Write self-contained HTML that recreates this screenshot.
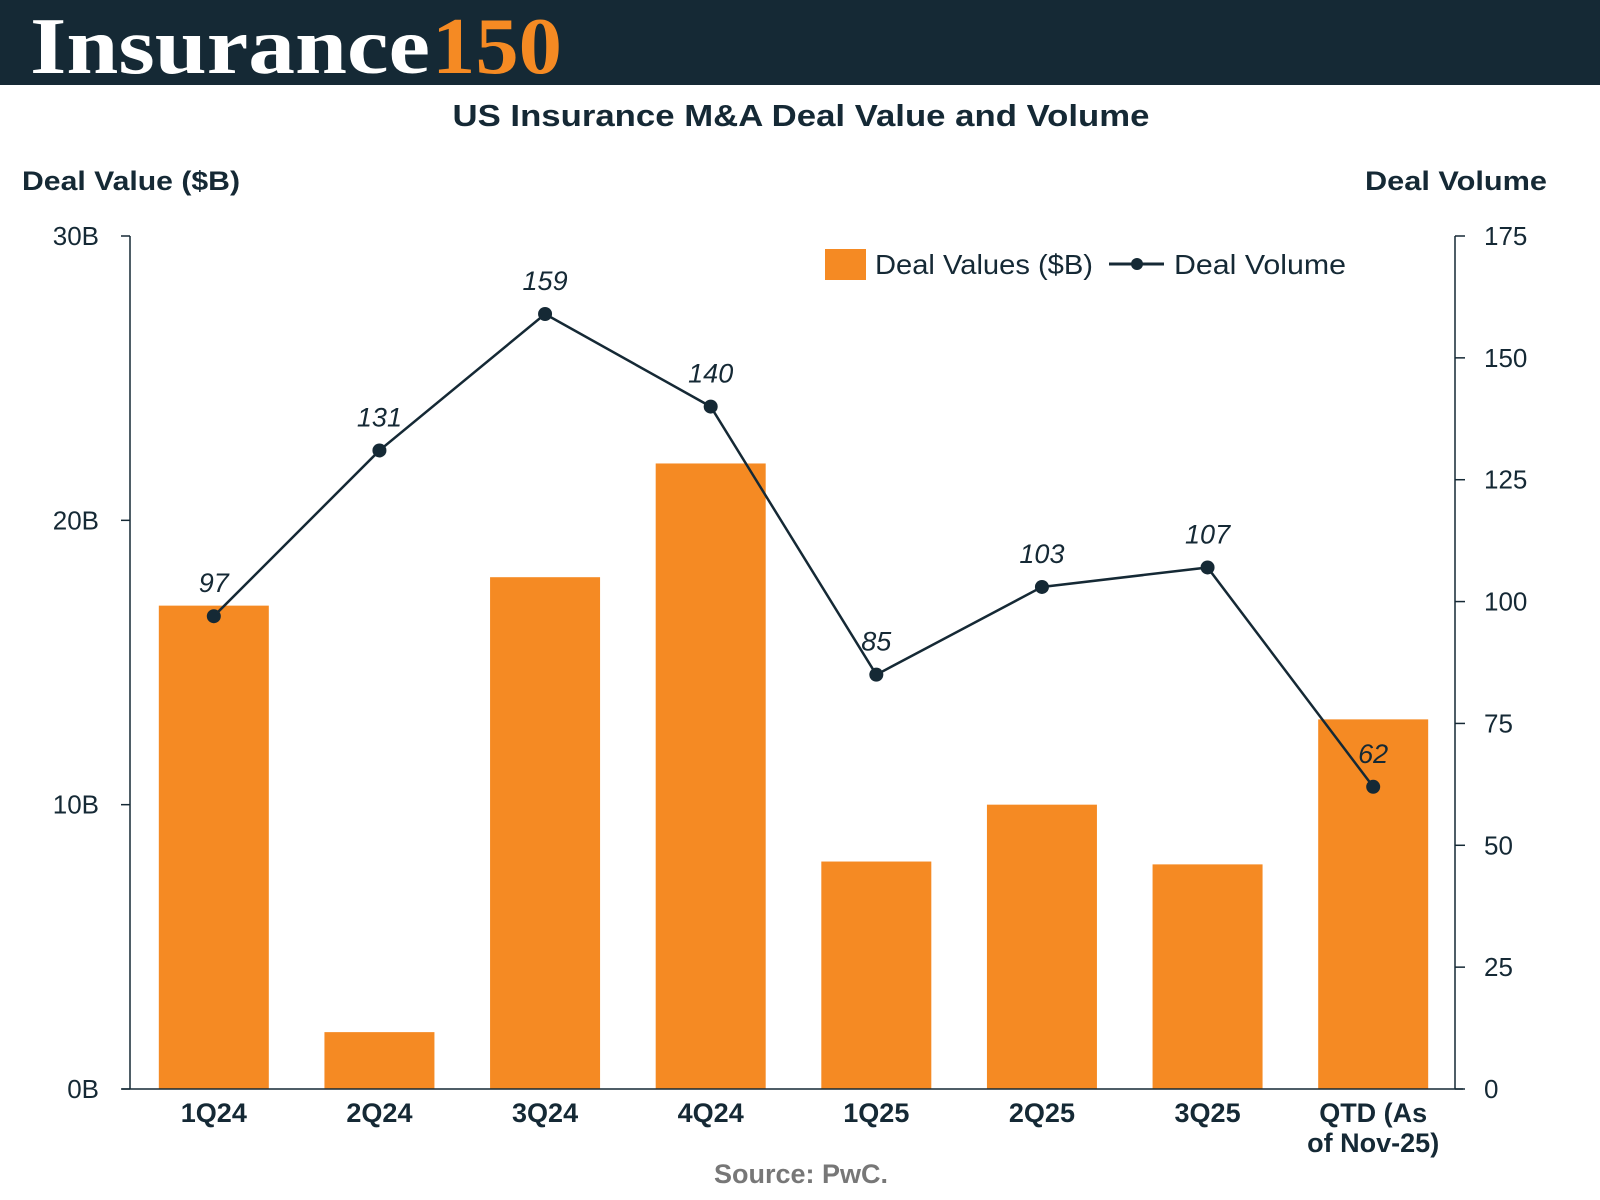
<!DOCTYPE html>
<html><head><meta charset="utf-8"><style>
html,body{margin:0;padding:0;background:#fff;width:1600px;height:1200px;overflow:hidden}
svg{display:block;font-family:"Liberation Sans","DejaVu Sans",sans-serif}
</style></head><body>
<svg id="chart" width="1600" height="1200" viewBox="0 0 1600 1200">
<rect x="0" y="0" width="1600" height="85" fill="#152935"/>
<text x="30" y="73" font-family="Liberation Serif,serif" font-weight="bold" font-size="80" fill="#fff" textLength="400" lengthAdjust="spacingAndGlyphs">Insurance</text>
<text x="432" y="73" font-family="Liberation Serif,serif" font-weight="bold" font-size="80" fill="#f58a23" textLength="130" lengthAdjust="spacingAndGlyphs">150</text>
<text x="801" y="126" text-anchor="middle" font-weight="bold" font-size="31" fill="#152935" textLength="697" lengthAdjust="spacingAndGlyphs">US Insurance M&amp;A Deal Value and Volume</text>
<text x="22" y="190" font-weight="bold" font-size="27" fill="#152935" textLength="218" lengthAdjust="spacingAndGlyphs">Deal Value ($B)</text>
<text x="1547" y="190" text-anchor="end" font-weight="bold" font-size="27" fill="#152935" textLength="182" lengthAdjust="spacingAndGlyphs">Deal Volume</text>
<g id="plot"></g>
<g>
<rect x="825" y="249" width="41" height="31" fill="#f58a23"/>
<text x="875" y="274" font-size="28" fill="#152935" textLength="218" lengthAdjust="spacingAndGlyphs">Deal Values ($B)</text>
<line x1="1109" y1="264" x2="1164" y2="264" stroke="#152935" stroke-width="3"/>
<circle cx="1137" cy="264" r="6" fill="#152935"/>
<text x="1174" y="274" font-size="28" fill="#152935" textLength="172" lengthAdjust="spacingAndGlyphs">Deal Volume</text>
</g>
<text x="801" y="1183" text-anchor="middle" font-weight="bold" font-size="27" fill="#777">Source: PwC.</text>
</svg>
<script>
const categories = ["1Q24","2Q24","3Q24","4Q24","1Q25","2Q25","3Q25","QTD (As|of Nov-25)"];
const dealValues = [17, 2, 18, 22, 8, 10, 7.9, 13];
const dealVolume = [97, 131, 159, 140, 85, 103, 107, 62];
const leftTicks = [0, 10, 20, 30];
const leftTickLabels = ["0B","10B","20B","30B"];
const rightTicks = [0, 25, 50, 75, 100, 125, 150, 175];

const NS = "http://www.w3.org/2000/svg";
const plot = document.getElementById("plot");
const X0 = 130, X1 = 1455, Y0 = 1089, Y1 = 236;
const step = (X1 - X0) / categories.length;
const xC = i => X0 + step * (i + 0.5) + 1;
const yL = v => Y0 - (v / 30) * (Y0 - Y1);
const yR = v => Y0 - (v / 175) * (Y0 - Y1);
function mk(tag, attrs, parent) {
  const e = document.createElementNS(NS, tag);
  for (const k in attrs) e.setAttribute(k, attrs[k]);
  (parent || plot).appendChild(e);
  return e;
}
const dark = "#152935";
dealValues.forEach((v, i) => {
  const r = mk("rect", {x: xC(i) - 55, y: yL(v), width: 110, height: Y0 - yL(v), fill: "#f58a23"});
  
  
});
const la = mk("line", {x1: X0, y1: Y1, x2: X0, y2: Y0, stroke: dark, "stroke-width": 1.5});


const ra = mk("line", {x1: X1, y1: Y1, x2: X1, y2: Y0, stroke: dark, "stroke-width": 1.5});


const xa = mk("line", {x1: X0 - 8, y1: Y0, x2: X1 + 8, y2: Y0, stroke: dark, "stroke-width": 1.5});


leftTicks.forEach((t, i) => {
  mk("line", {x1: X0 - 9, y1: yL(t), x2: X0, y2: yL(t), stroke: dark, "stroke-width": 1.5});
  const tx = mk("text", {x: 99, y: yL(t) + 9, "text-anchor": "end", "font-size": 26, fill: dark});
  tx.textContent = leftTickLabels[i];
  
  
});
rightTicks.forEach(t => {
  mk("line", {x1: X1, y1: yR(t), x2: X1 + 10, y2: yR(t), stroke: dark, "stroke-width": 1.5});
  const tx = mk("text", {x: X1 + 29, y: yR(t) + 9, "font-size": 26, fill: dark});
  tx.textContent = String(t);
  
  
});
categories.forEach((c, i) => {
  const lines = c.split("|");
  lines.forEach((ln, j) => {
    const tx = mk("text", {x: xC(i), y: 1122 + j * 30, "text-anchor": "middle", "font-size": 27, "font-weight": "bold", fill: dark});
    tx.textContent = ln;
    
    
  });
});
const pts = dealVolume.map((v, i) => xC(i) + "," + yR(v)).join(" ");
const pl = mk("polyline", {points: pts, fill: "none", stroke: dark, "stroke-width": 2.5});


dealVolume.forEach((v, i) => {
  const c = mk("circle", {cx: xC(i), cy: yR(v), r: 7, fill: dark});
  
  
  const tx = mk("text", {x: xC(i), y: yR(v) - 24, "text-anchor": "middle", "font-size": 27, "font-style": "italic", fill: dark});
  tx.textContent = String(v);
  
  
});
</script>
</body></html>
